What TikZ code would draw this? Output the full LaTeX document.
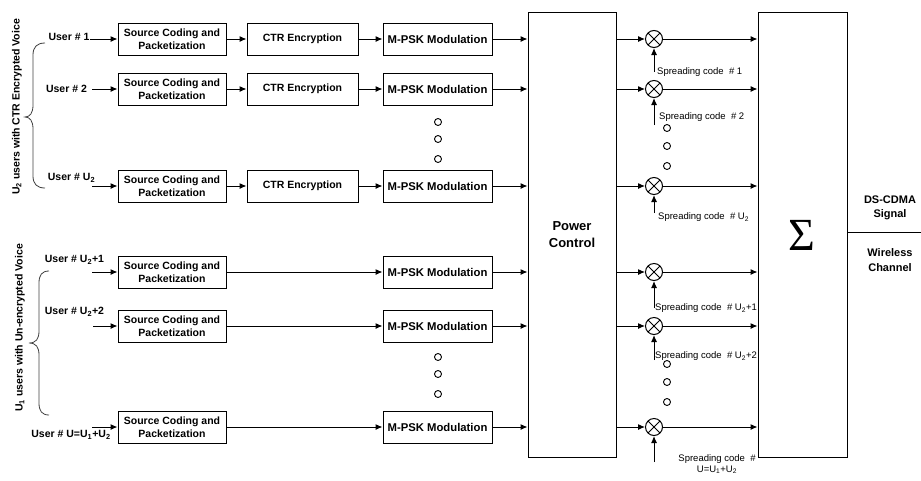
\documentclass[tikz,border=0pt]{standalone}
\usepackage{fontspec}
\setmainfont{Liberation Sans}
\newfontfamily\sigmafont{Liberation Serif}
\usetikzlibrary{arrows.meta}

\begin{document}
\begin{tikzpicture}[x=1pt,y=-1pt]
    \tikzstyle{every node}=[font=\fontsize{10.5}{13.5}\selectfont\bfseries]
    \tikzstyle{block}=[draw, line width=1pt, inner sep=0pt, align=center, minimum height=32pt]
    \tikzstyle{flow}=[-{Latex[length=7pt,width=6pt]}, line width=1pt]
    \tikzstyle{mixer}=[draw, circle, line width=1pt, minimum size=17pt, inner sep=0pt,
        path picture={\draw[line width=1pt] (path picture bounding box.north west) -- (path picture bounding box.south east)
            (path picture bounding box.north east) -- (path picture bounding box.south west);}]
    \tikzstyle{dot}=[draw, circle, line width=0.9pt, minimum size=7pt, inner sep=0pt]
    \tikzstyle{spreadlbl}=[font=\fontsize{9.5}{11}\selectfont, anchor=west, inner sep=0pt]
    \tikzstyle{curly}=[line width=0.8pt, black!75]
    \useasboundingbox (0,0) rectangle (921,480);

    % big blocks
    \node[block, minimum width=88pt, minimum height=445pt, font=\fontsize{13}{17}\selectfont\bfseries] (pc) at (572,234.5) {Power\\Control};
    \node[block, minimum width=89pt, minimum height=445pt] (sum) at (802.5,234.5) {};
    \node[font=\fontsize{46}{46}\selectfont\sigmafont] (sig) at (802,235) {Σ};

    % encrypted users
    \foreach \i/\y in {1/39, 2/89, 3/186} {
        \node[block, minimum width=108pt] (s\i) at (172,\y) {Source Coding and\\Packetization};
        \node[block, minimum width=111pt] (c\i) at (302.5,\y) {CTR Encryption};
        \node[block, minimum width=109pt, font=\fontsize{11.3}{13.5}\selectfont\bfseries] (m\i) at (437.5,\y) {M-PSK Modulation};
        \draw[flow] (s\i) -- (c\i);
        \draw[flow] (c\i) -- (m\i);
    }
    % un-encrypted users
    \foreach \i/\y in {4/272, 5/326, 6/427} {
        \node[block, minimum width=108pt] (s\i) at (172,\y) {Source Coding and\\Packetization};
        \node[block, minimum width=109pt, font=\fontsize{11.3}{13.5}\selectfont\bfseries] (m\i) at (437.5,\y) {M-PSK Modulation};
        \draw[flow] (s\i) -- (m\i);
    }

    % user inputs
    \node (u1) at (69,37) {User \# 1};
    \node (u2) at (66.5,89) {User \# 2};
    \node (u3) at (71.5,178) {User \# U\textsubscript{2}};
    \node (u4) at (74.5,260) {User \# U\textsubscript{2}+1};
    \node (u5) at (74.5,312) {User \# U\textsubscript{2}+2};
    \node (u6) at (71,435) {User \# U=U\textsubscript{1}+U\textsubscript{2}};
    \foreach \i/\x/\y in {1/90/39, 2/92/89, 3/92/186, 4/92/272, 5/93/326, 6/92/427} {
        \coordinate (a\i) at (\x,\y);
        \draw[flow] (a\i) -- (s\i);
    }

    % groups
    \draw[curly] (45,43) .. controls (37,43) and (33,47) .. (33,55) -- (33,105)
        .. controls (33,113) and (30,117) .. (25,117) .. controls (30,117) and (33,121) .. (33,129)
        -- (33,176) .. controls (33,184) and (37,188) .. (45,188);
    \draw[curly] (49,271) .. controls (42,271) and (39,275) .. (39,283) -- (39,331)
        .. controls (39,339) and (36,343) .. (29,343) .. controls (36,343) and (39,347) .. (39,355)
        -- (39,403) .. controls (39,411) and (42,415) .. (49,415);
    \node[rotate=90] (g1) at (17,107) {U\textsubscript{2} users with CTR Encrypted Voice};
    \node[rotate=90] (g2) at (20,328) {U\textsubscript{1} users with Un-encrypted Voice};

    % spreading
    \foreach \i/\y/\b in {1/39/72, 2/89/125, 3/186/213, 4/272/308, 5/326/360, 6/427/462} {
        \node[mixer] (x\i) at (654,\y) {};
        \coordinate (sc\i) at (654,\b);
        \draw[flow] (m\i) -- (m\i -| pc.west);
        \draw[flow] (x\i -| pc.east) -- (x\i);
        \draw[flow] (x\i) -- (x\i -| sum.west);
        \draw[flow] (sc\i) -- (x\i);
    }
    \node[spreadlbl] (l1) at (657,72) {Spreading code \ \# 1};
    \node[spreadlbl] (l2) at (659,117) {Spreading code \ \# 2};
    \node[spreadlbl] (l3) at (658,217) {Spreading code \ \# U\textsubscript{2}};
    \node[spreadlbl] (l4) at (655,308) {Spreading code \ \# U\textsubscript{2}+1};
    \node[spreadlbl] (l5) at (655,356) {Spreading code \ \# U\textsubscript{2}+2};
    \node[spreadlbl, anchor=center, align=center] (l6) at (717,464) {Spreading code \ \#\\U=U\textsubscript{1}+U\textsubscript{2}};

    % dots
    \foreach \y in {122, 139, 159, 357, 374, 394}
        \node[dot] at (438,\y) {};
    \foreach \y in {128, 146, 166, 364, 382, 402}
        \node[dot] at (667,\y) {};

    % output
    \coordinate (out) at (921,232);
    \draw[line width=1pt] (out -| sum.east) -- (out);
    \node[font=\fontsize{11}{14}\selectfont\bfseries, align=center] (sig1) at (890,208) {DS-CDMA\\Signal};
    \node[font=\fontsize{11}{15}\selectfont\bfseries, align=center] (ch) at (890,260) {Wireless\\Channel};
\end{tikzpicture}
\end{document}
